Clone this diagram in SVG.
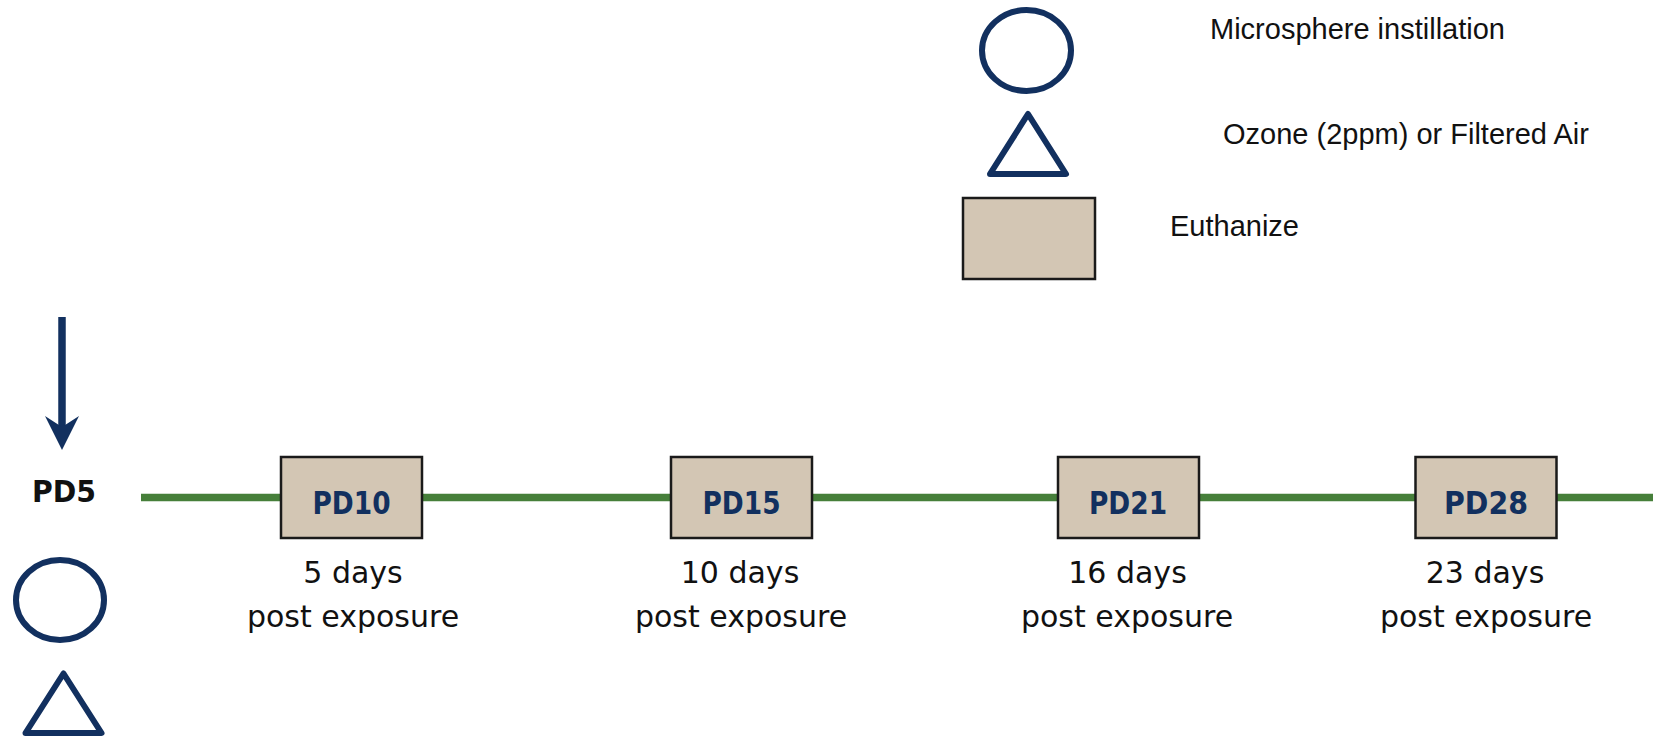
<svg xmlns="http://www.w3.org/2000/svg" width="1653" height="736" viewBox="0 0 1653 736">
  <style>
    .mark { fill: none; stroke: #12305f; stroke-width: 6; stroke-linejoin: round; }
    .box { fill: #d3c6b4; stroke: #1a1a1a; stroke-width: 2.5; }
    .legend-text { font-family: "Liberation Sans", Arial, sans-serif; font-size: 29px; fill: #111; }
    .pd { font-family: "Comic Sans MS", "DejaVu Sans", sans-serif; font-weight: bold; font-size: 32px; fill: #12305f; text-anchor: middle; }
    .pd5 { font-family: "Comic Sans MS", "DejaVu Sans", sans-serif; font-weight: bold; font-size: 31px; fill: #111; text-anchor: middle; }
    .days { font-family: "Comic Sans MS", "DejaVu Sans", sans-serif; font-size: 30px; fill: #111; text-anchor: middle; }
  </style>
  <rect width="1653" height="736" fill="#ffffff"/>

  <!-- legend -->
  <g id="legend-instillation">
    <ellipse class="mark" cx="1026.5" cy="50.5" rx="44.5" ry="40.5"/>
    <text class="legend-text" x="1210" y="39">Microsphere instillation</text>
  </g>
  <g id="legend-exposure">
    <path class="mark" d="M1028,114 L1066,174 L990,174 Z"/>
    <text class="legend-text" x="1223" y="144">Ozone (2ppm) or Filtered Air</text>
  </g>
  <g id="legend-euthanize">
    <rect class="box" x="963" y="198" width="132" height="81"/>
    <text class="legend-text" x="1170" y="236">Euthanize</text>
  </g>

  <!-- timeline and start arrow -->
  <g id="connectors">
    <line x1="141" y1="497.5" x2="1653" y2="497.5" stroke="#467f3a" stroke-width="7.5"/>
    <line x1="62" y1="317" x2="62" y2="428" stroke="#12305f" stroke-width="7.5"/>
    <path d="M45,416 L62,450 L79,416 L62,427 Z" fill="#12305f"/>
  </g>

  <!-- start point -->
  <g id="pd5">
    <text class="pd5" x="64" y="502" textLength="64" lengthAdjust="spacingAndGlyphs">PD5</text>
    <ellipse class="mark" cx="60" cy="600" rx="44" ry="40"/>
    <path class="mark" d="M63.5,673.5 L101.5,733 L25.5,733 Z"/>
  </g>

  <g id="pd10">
    <rect class="box" x="281" y="457" width="141" height="81"/>
    <text class="pd" x="351.5" y="514" textLength="78" lengthAdjust="spacingAndGlyphs">PD10</text>
    <text class="days" x="353" y="583">5 days</text>
    <text class="days" x="353" y="627">post exposure</text>
  </g>

  <g id="pd15">
    <rect class="box" x="671" y="457" width="141" height="81"/>
    <text class="pd" x="741.5" y="514" textLength="78" lengthAdjust="spacingAndGlyphs">PD15</text>
    <text class="days" x="740" y="583">10 days</text>
    <text class="days" x="741" y="627">post exposure</text>
  </g>

  <g id="pd21">
    <rect class="box" x="1058" y="457" width="141" height="81"/>
    <text class="pd" x="1128" y="514" textLength="78" lengthAdjust="spacingAndGlyphs">PD21</text>
    <text class="days" x="1127.5" y="583">16 days</text>
    <text class="days" x="1127" y="627">post exposure</text>
  </g>

  <g id="pd28">
    <rect class="box" x="1415.5" y="457" width="141" height="81"/>
    <text class="pd" x="1486" y="514" textLength="84" lengthAdjust="spacingAndGlyphs">PD28</text>
    <text class="days" x="1485" y="583">23 days</text>
    <text class="days" x="1486" y="627">post exposure</text>
  </g>
</svg>
